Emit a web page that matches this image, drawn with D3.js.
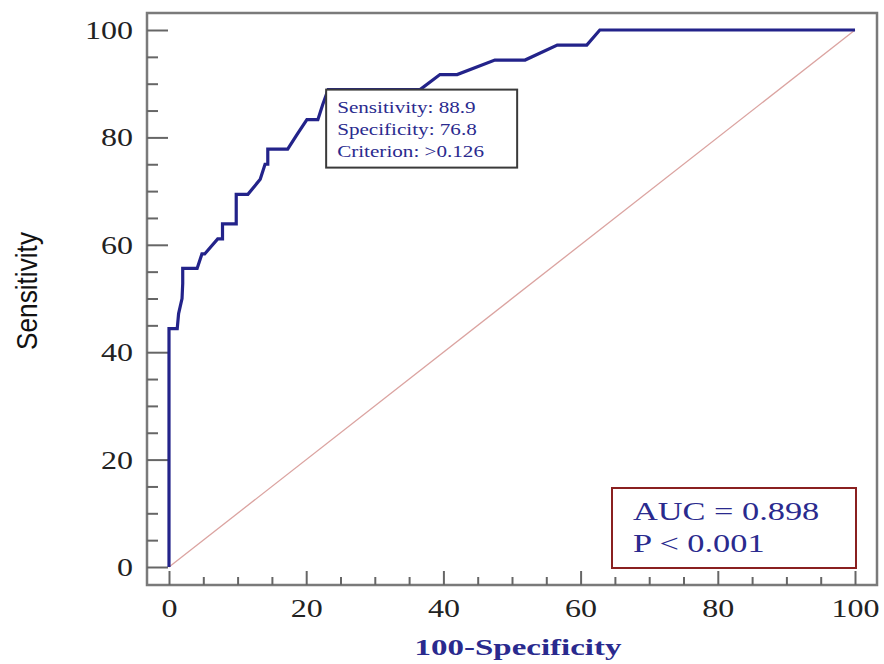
<!DOCTYPE html>
<html>
<head>
<meta charset="utf-8">
<script src="https://cdn.jsdelivr.net/npm/d3@7"></script>
<style>
  body { margin: 0; background: #fff; }
  svg { display: block; }
</style>
</head>
<body>
<svg id="chart" width="884" height="664"></svg>
<script>
// ROC curve points (100-Specificity, Sensitivity)
const fpr = [0, 0, 1.2, 1.4, 1.9, 2.0, 2.0, 4.1, 4.8, 5.2, 7.1, 7.8, 7.8, 9.8, 9.8, 11.5, 13.3, 14.0, 14.4, 14.4,
  17.3, 18.7, 20.1, 21.7, 22.4, 23.2, 36.6, 39.5, 42.0, 47.5, 51.9, 56.6, 60.9, 62.8, 100];
const tpr = [0, 44.4, 44.4, 47.2, 50.0, 52.8, 55.6, 55.6, 58.3, 58.3, 61.1, 61.1, 63.9, 63.9, 69.4, 69.4, 72.2, 75.0, 75.0, 77.8,
  77.8, 80.6, 83.3, 83.3, 86.1, 88.9, 88.9, 91.7, 91.7, 94.4, 94.4, 97.2, 97.2, 100, 100];
const majorTicks = [0, 20, 40, 60, 80, 100];
const minorTicks = d3.range(0, 101, 5).filter((d) => d % 20 !== 0);
const cutoff = {x: 23.2, y: 88.9};
const cutoffLabels = ['Sensitivity: 88.9', 'Specificity: 76.8', 'Criterion: >0.126'];
const statLabels = ['AUC = 0.898', 'P < 0.001'];

const svg = d3.select('#chart');
const frame = {left: 147, top: 13, right: 877, bottom: 585};
const x = d3.scaleLinear().domain([0, 100]).range([169, 855]);
const y = d3.scaleLinear().domain([0, 100]).range([567, 30]);
const blue = '#2a2a8e';
const stretch = 1.32; // the source picture is widened horizontally

// widen text glyphs to match the source aspect
function widen(sel) {
  sel.each(function() {
    const w = this.getComputedTextLength();
    d3.select(this)
        .attr('textLength', w * stretch)
        .attr('lengthAdjust', 'spacingAndGlyphs');
  });
}

// frame
svg.append('rect')
    .attr('x', frame.left).attr('y', frame.top)
    .attr('width', frame.right - frame.left)
    .attr('height', frame.bottom - frame.top)
    .attr('fill', 'none').attr('stroke', '#7a7a7a').attr('stroke-width', 2.5);

// axes, ticks pointing inward
const yMajor = svg.append('g').attr('transform', `translate(${frame.left},0)`)
    .call(d3.axisLeft(y).tickValues(majorTicks).tickSize(-21).tickPadding(35));
const yMinor = svg.append('g').attr('transform', `translate(${frame.left},0)`)
    .call(d3.axisLeft(y).tickValues(minorTicks).tickSize(-11).tickFormat(''));
const xMajor = svg.append('g').attr('transform', `translate(0,${frame.bottom})`)
    .call(d3.axisBottom(x).tickValues(majorTicks).tickSize(-14).tickPadding(30));
const xMinor = svg.append('g').attr('transform', `translate(0,${frame.bottom})`)
    .call(d3.axisBottom(x).tickValues(minorTicks).tickSize(-8).tickFormat(''));

[yMajor, yMinor, xMajor, xMinor].forEach((g) => {
  g.select('.domain').remove();
  g.selectAll('line').attr('stroke', '#666').attr('stroke-width', 2);
});
[yMajor, xMajor].forEach((g) => {
  g.selectAll('text')
      .attr('font-family', 'Liberation Serif, serif')
      .attr('font-size', 25)
      .attr('fill', '#222')
      .attr('textLength', (d) => String(d).length * 16)
      .attr('lengthAdjust', 'spacingAndGlyphs');
});
yMajor.selectAll('text').attr('x', -14).attr('dy', '0.34em');
xMajor.selectAll('text').attr('y', 32).attr('dy', 0);

// reference diagonal
svg.append('line')
    .attr('x1', x(0)).attr('y1', y(0))
    .attr('x2', x(100)).attr('y2', y(100))
    .attr('stroke', '#dba3a0').attr('stroke-width', 1.3);

// ROC curve
const pts = fpr.map((d, i) => [d, tpr[i]]);
svg.append('path')
    .datum(pts)
    .attr('fill', 'none')
    .attr('stroke', '#23238a')
    .attr('stroke-width', 3.2)
    .attr('stroke-linejoin', 'miter')
    .attr('d', d3.line().x((d) => x(d[0])).y((d) => y(d[1])));

// cut-off box
const cx = x(cutoff.x);
const cy = y(cutoff.y);
svg.append('rect')
    .attr('x', cx - 2).attr('y', cy).attr('width', 191).attr('height', 78)
    .attr('fill', '#fff').attr('stroke', '#3a3a3a').attr('stroke-width', 2);
svg.append('g').selectAll('text')
    .data(cutoffLabels)
    .join('text')
    .attr('x', cx + 9)
    .attr('y', (d, i) => cy + 23 + i * 22)
    .attr('font-family', 'Liberation Serif, serif')
    .attr('font-size', 16)
    .attr('fill', blue)
    .text((d) => d)
    .call(widen);

// AUC box
svg.append('rect')
    .attr('x', 612).attr('y', 488).attr('width', 244).attr('height', 80)
    .attr('fill', '#fff').attr('stroke', '#8a2020').attr('stroke-width', 2);
svg.append('g').selectAll('text')
    .data(statLabels)
    .join('text')
    .attr('x', 633)
    .attr('y', (d, i) => 520 + i * 32)
    .attr('font-family', 'Liberation Serif, serif')
    .attr('font-size', 26)
    .attr('fill', blue)
    .text((d) => d)
    .call(widen);

// axis titles
svg.append('text')
    .attr('transform', 'translate(37,291) rotate(-90)')
    .attr('text-anchor', 'middle')
    .attr('font-family', 'Liberation Sans, Arial, sans-serif')
    .attr('font-size', 30)
    .attr('fill', '#111')
    .attr('textLength', 118)
    .attr('lengthAdjust', 'spacingAndGlyphs')
    .text('Sensitivity');

svg.append('text')
    .attr('x', 518).attr('y', 655)
    .attr('text-anchor', 'middle')
    .attr('font-family', 'Liberation Serif, serif')
    .attr('font-weight', 'bold')
    .attr('font-size', 23)
    .attr('fill', blue)
    .attr('textLength', 207)
    .attr('lengthAdjust', 'spacingAndGlyphs')
    .text('100-Specificity');
</script>
</body>
</html>
